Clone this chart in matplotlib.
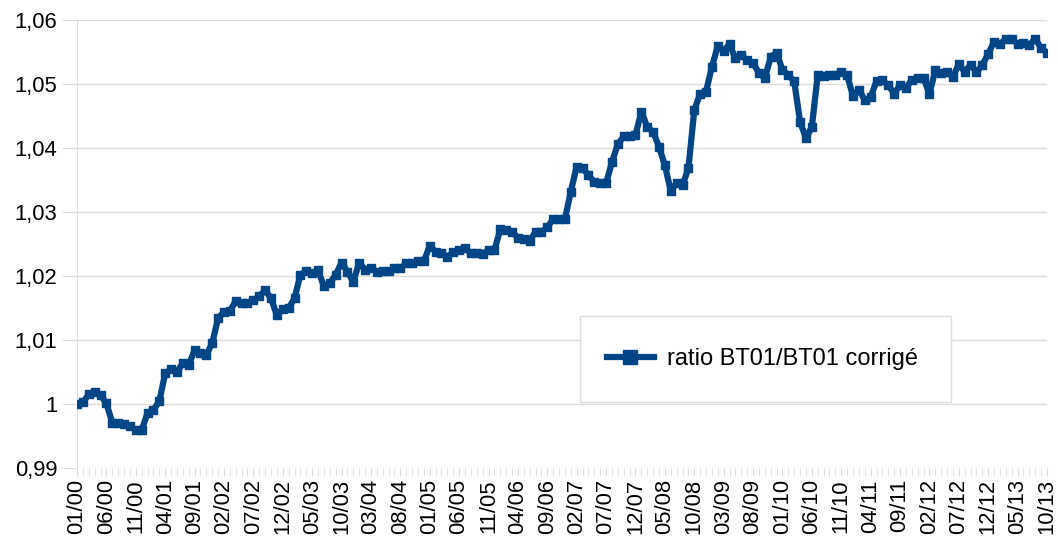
import matplotlib
matplotlib.use("Agg")
import matplotlib.pyplot as plt
from matplotlib.patches import Rectangle
from matplotlib.ticker import FuncFormatter, MultipleLocator
import pandas as pd

# months 01/2000 .. 10/2013
months = [p.strftime("%m/%y") for p in pd.period_range("2000-01", "2013-10", freq="M")]

ratio = [
    1.0000, 1.0003, 1.0015, 1.0018, 1.0014, 1.0001, 0.9971, 0.9971, 0.9968, 0.9966,
    0.9959, 0.9959, 0.9986, 0.9991, 1.0004, 1.0048, 1.0054, 1.0050, 1.0064, 1.0061,
    1.0084, 1.0079, 1.0077, 1.0095, 1.0134, 1.0144, 1.0145, 1.0161, 1.0158, 1.0158,
    1.0162, 1.0168, 1.0178, 1.0165, 1.0139, 1.0148, 1.0150, 1.0165, 1.0202, 1.0208,
    1.0204, 1.0209, 1.0184, 1.0189, 1.0202, 1.0221, 1.0207, 1.0191, 1.0221, 1.0210,
    1.0212, 1.0207, 1.0208, 1.0208, 1.0212, 1.0212, 1.0220, 1.0221, 1.0223, 1.0223,
    1.0247, 1.0238, 1.0236, 1.0230, 1.0237, 1.0240, 1.0243, 1.0236, 1.0236, 1.0235,
    1.0240, 1.0240, 1.0273, 1.0272, 1.0269, 1.0260, 1.0258, 1.0255, 1.0269, 1.0269,
    1.0276, 1.0289, 1.0289, 1.0289, 1.0332, 1.0371, 1.0368, 1.0358, 1.0347, 1.0345,
    1.0345, 1.0378, 1.0406, 1.0418, 1.0419, 1.0420, 1.0457, 1.0433, 1.0425, 1.0402,
    1.0373, 1.0333, 1.0345, 1.0342, 1.0368, 1.0459, 1.0485, 1.0488, 1.0527, 1.0559,
    1.0552, 1.0562, 1.0540, 1.0545, 1.0537, 1.0533, 1.0517, 1.0509, 1.0542, 1.0549,
    1.0522, 1.0514, 1.0504, 1.0441, 1.0415, 1.0433, 1.0514, 1.0513, 1.0514, 1.0514,
    1.0519, 1.0514, 1.0481, 1.0491, 1.0475, 1.0479, 1.0505, 1.0506, 1.0498, 1.0485,
    1.0498, 1.0493, 1.0507, 1.0509, 1.0510, 1.0484, 1.0522, 1.0517, 1.0519, 1.0511,
    1.0531, 1.0519, 1.0530, 1.0518, 1.0530, 1.0547, 1.0566, 1.0562, 1.0571, 1.0571,
    1.0562, 1.0564, 1.0561, 1.0571, 1.0556, 1.0549,
]

label_step = 5
plt.rcParams["font.family"] = ["Liberation Sans", "DejaVu Sans"]

fig = plt.figure(figsize=(10.58, 5.5), dpi=100)
ax = fig.add_axes([77 / 1058, 82 / 550, 970 / 1058, 448 / 550])

x = list(range(len(months)))
ax.plot(x, ratio, color="#004586", linewidth=4.5, marker="s", markersize=6.2,
        label="ratio BT01/BT01 corrigé", zorder=3)

ax.set_xlim(0, len(months) - 1)
ax.set_ylim(0.99, 1.06)
ax.yaxis.set_major_locator(MultipleLocator(0.01))
ax.yaxis.set_major_formatter(FuncFormatter(lambda v, p: f"{v:.2f}".rstrip("0").rstrip(".").replace(".", ",")))

ax.set_xticks(x[::label_step])
ax.set_xticklabels(months[::label_step], rotation=90)
ax.set_xticks(x, minor=True)

ax.grid(axis="y", color="#dddddd", linewidth=1)
ax.set_axisbelow(True)
for s in ["top", "right", "bottom"]:
    ax.spines[s].set_visible(False)
ax.spines["left"].set_color("#dddddd")
ax.tick_params(axis="y", length=11, color="#dddddd", labelsize=15.8, pad=3)
ax.tick_params(axis="x", which="both", length=6, color="#dddddd", labelsize=15.8, pad=2)

# legend box
ax.add_patch(Rectangle((0.519, 0.147), 0.382, 0.192, transform=ax.transAxes,
                       facecolor="white", edgecolor="#dddddd", linewidth=1, zorder=4))
leg = ax.legend(loc="center left", bbox_to_anchor=(0.546, 0.243), frameon=False,
                fontsize=17, handlelength=2.0, handletextpad=0.55, markerscale=1.7,
                borderpad=0, borderaxespad=0)
leg.set_zorder(5)

fig.savefig("out.png", dpi=100)
